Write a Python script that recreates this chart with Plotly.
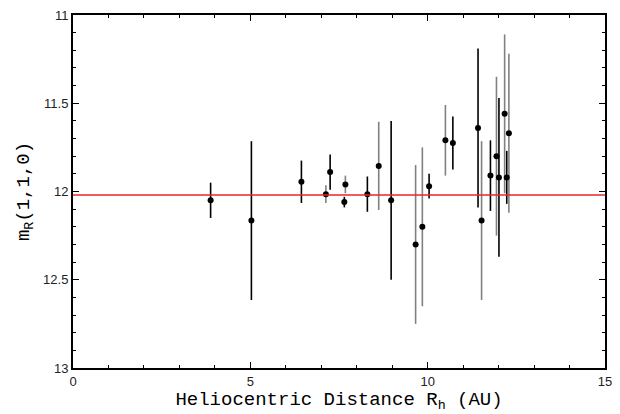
import plotly.graph_objects as go

# Data
rh = [3.88, 5.03, 6.44, 7.13, 7.25, 7.68, 7.65, 8.30, 8.62, 8.97, 9.66, 9.85,
      10.04, 10.50, 10.71, 11.42, 11.52, 11.77, 11.94, 12.01, 12.17, 12.23, 12.29]
mr = [12.05, 12.165, 11.945, 12.015, 11.89, 11.96, 12.06, 12.015, 11.855, 12.05, 12.30, 12.20,
      11.97, 11.71, 11.725, 11.64, 12.165, 11.91, 11.80, 11.92, 11.56, 11.92, 11.67]
err = [0.10, 0.45, 0.12, 0.05, 0.10, 0.05, 0.03, 0.10, 0.25, 0.45, 0.45, 0.45,
       0.07, 0.20, 0.15, 0.45, 0.45, 0.20, 0.45, 0.45, 0.45, 0.15, 0.45]
# error bar shade: "k" = black, "g" = gray
shade = ["k", "k", "k", "g", "k", "g", "k", "k", "g", "k", "g", "g",
         "k", "g", "k", "k", "g", "k", "g", "k", "g", "k", "g"]
mean_mag = 12.02

xticks = [0, 5, 10, 15]
yticks = [11, 11.5, 12, 12.5, 13]

fig = go.Figure()

for s, col in [("g", "#808080"), ("k", "#000000")]:
    idx = [i for i, v in enumerate(shade) if v == s]
    fig.add_trace(go.Scatter(
        x=[rh[i] for i in idx], y=[mr[i] for i in idx],
        mode="markers",
        marker=dict(color="black", size=6),
        error_y=dict(type="data", array=[err[i] for i in idx], visible=True,
                     color=col, thickness=1.6, width=0),
        showlegend=False,
    ))

fig.add_shape(type="line", xref="paper", x0=0, x1=1, yref="y", y0=mean_mag, y1=mean_mag,
              line=dict(color="#e8262a", width=1.5), layer="above")

axis_common = dict(
    showgrid=False, zeroline=False, showline=True, linecolor="black", linewidth=2,
    mirror="ticks", ticks="inside", ticklen=6, tickwidth=1, tickcolor="black",
    tickfont=dict(family="Liberation Sans, Arial", size=13, color="#222"),
)

fig.update_xaxes(
    range=[0, 15], tickvals=xticks, ticktext=[str(v) for v in xticks],
    minor=dict(dtick=1, ticks="inside", ticklen=3, tickcolor="black"),
    title=dict(text="Heliocentric Distance R<sub>h</sub> (AU)",
               font=dict(family="Liberation Mono, Courier New", size=19, color="#000"),
               standoff=4),
    **axis_common,
)
fig.update_yaxes(
    range=[13, 11], tickvals=yticks, ticktext=["11", "11.5", "12", "12.5", "13"],
    minor=dict(dtick=0.1, ticks="inside", ticklen=3, tickcolor="black"),
    title=dict(text="m<sub>R</sub>(1,1,0)",
               font=dict(family="Liberation Mono, Courier New", size=19, color="#000"),
               standoff=8),
    **axis_common,
)

fig.update_layout(
    width=620, height=414,
    margin=dict(l=73, r=8, t=12, b=46),
    paper_bgcolor="white", plot_bgcolor="white",
)

fig.write_html("out.html", config={"displayModeBar": False},
               post_script="document.body.style.margin='0';document.body.style.overflow='hidden';")
